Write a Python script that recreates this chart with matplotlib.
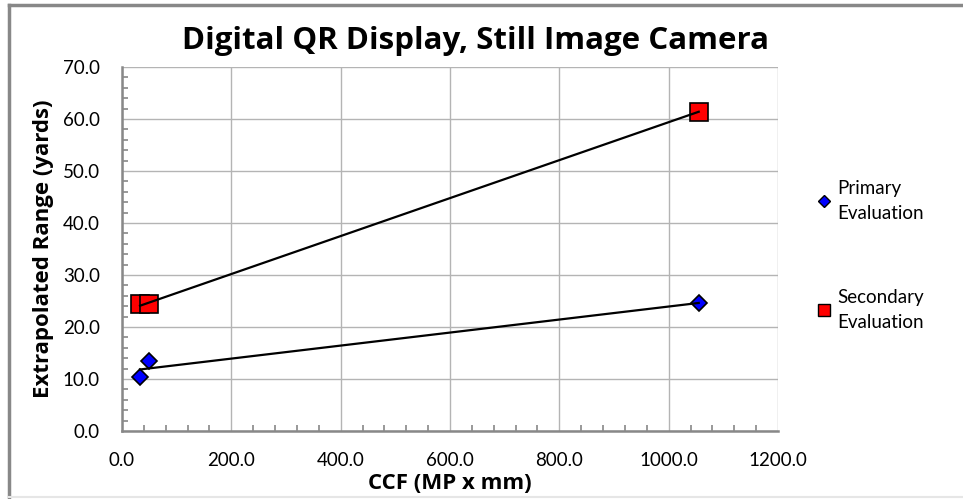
import numpy as np
import matplotlib
matplotlib.use("Agg")
import matplotlib.pyplot as plt
from matplotlib.lines import Line2D
from matplotlib.ticker import MultipleLocator, FormatStrFormatter

primary_x = [33, 50, 1055]
primary_y = [10.4, 13.5, 24.6]
secondary_x = [33, 50, 1055]
secondary_y = [24.4, 24.4, 61.4]

title = "Digital QR Display, Still Image Camera"
xlabel = "CCF (MP x mm)"
ylabel = "Extrapolated Range (yards)"
labels = ["Primary\nEvaluation", "Secondary\nEvaluation"]

W, H = 963, 499
fig = plt.figure(figsize=(W / 100, H / 100), dpi=100)
plt.rcParams['font.family'] = ['Lato', 'DejaVu Sans']
BOLD = ['Open Sans', 'DejaVu Sans']

ax = fig.add_axes([122 / W, 1 - 431 / H, (778 - 122) / W, (431 - 67) / H])
ax.set_xlim(0, 1200)
ax.set_ylim(0, 70)
ax.xaxis.set_major_locator(MultipleLocator(200))
ax.xaxis.set_minor_locator(MultipleLocator(40))
ax.yaxis.set_major_locator(MultipleLocator(10))
ax.yaxis.set_minor_locator(MultipleLocator(2))
ax.xaxis.set_major_formatter(FormatStrFormatter('%.1f'))
ax.yaxis.set_major_formatter(FormatStrFormatter('%.1f'))
ax.grid(True, which='major', color='#b4b4b4', lw=1.0)
ax.set_axisbelow(True)
for s in ['top', 'right']:
    ax.spines[s].set_visible(False)
for s in ['left', 'bottom']:
    ax.spines[s].set_color('#888888')
    ax.spines[s].set_linewidth(1.8)
ax.tick_params(which='both', direction='in', color='#888888', labelsize=13.5, width=1.2)
ax.tick_params(which='major', length=0)
ax.tick_params(which='minor', length=4)
ax.tick_params(axis='y', pad=16)
ax.tick_params(axis='x', pad=15)

ax.plot(primary_x, primary_y, ls='none', marker='D', markersize=8.5,
        markerfacecolor='#0000ff', markeredgecolor='black', markeredgewidth=1.2,
        zorder=3)
ax.plot(secondary_x, secondary_y, ls='none', marker='s', markersize=12.5,
        markerfacecolor='#ff0000', markeredgecolor='black', markeredgewidth=1.2,
        zorder=3)

for xs, ys in [(primary_x, primary_y), (secondary_x, secondary_y)]:
    xs = np.asarray(xs, float)
    ys = np.asarray(ys, float)
    m, b = np.polyfit(xs, ys, 1)
    xx = np.array([xs.min(), xs.max()])
    ax.plot(xx, m * xx + b, color='black', lw=1.6, zorder=4)

ax.set_xlabel(xlabel, fontsize=16, fontweight='bold', family=BOLD)
ax.xaxis.set_label_coords(0.5, (431 - 473) / 364)
ax.set_ylabel(ylabel, fontsize=16, fontweight='bold', family=BOLD)
ax.yaxis.set_label_coords((54 - 122) / 656, 0.5)
fig.text(475 / W, 1 - 41 / H, title, fontsize=22.5, fontweight='bold', family=BOLD,
         ha='center', va='center')

lp1 = Line2D([], [], ls='none', marker='D', markersize=6.5, markerfacecolor='#0000ff',
             markeredgecolor='black', markeredgewidth=1)
lp2 = Line2D([], [], ls='none', marker='s', markersize=9, markerfacecolor='#ff0000',
             markeredgecolor='black', markeredgewidth=1)
leg = fig.legend([lp1, lp2], labels, loc='upper left',
                 bbox_to_anchor=(801 / W, 1 - 163 / H), frameon=False,
                 fontsize=13.5, handlelength=0.7, handletextpad=0.35,
                 labelspacing=3.6)
for t in leg.get_texts():
    t.set_linespacing(1.55)

fig.add_artist(Line2D([8.5 / W, 8.5 / W], [0, 1 - 5 / H], color='#888888', lw=2.5))
fig.add_artist(Line2D([8.5 / W, 1], [1 - 5 / H, 1 - 5 / H], color='#888888', lw=2.5))
fig.add_artist(Line2D([8.5 / W, 1], [1 - 497 / H, 1 - 497 / H], color='#e6e6e6', lw=1.5))

fig.savefig('out.png', dpi=100)
